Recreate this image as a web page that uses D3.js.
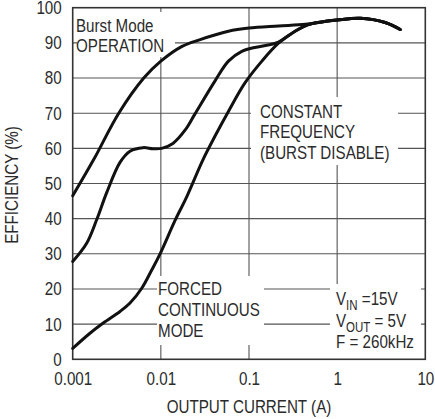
<!DOCTYPE html>
<html>
<head>
<meta charset="utf-8">
<script src="https://cdnjs.cloudflare.com/ajax/libs/d3/7.8.5/d3.min.js"></script>
<style>
  body { margin: 0; background: #fff; }
  text { font-family: 'Liberation Sans', Arial, sans-serif; fill: #2b2b2b; }
</style>
</head>
<body>
<script>
// output current (A) and efficiency (%)
var burstI   = [0.001, 0.00173, 0.00333, 0.0064, 0.01, 0.0174, 0.0269, 0.0584, 0.1, 0.216, 0.434, 0.69, 1.0, 1.83, 3.5, 5.2];
var burstEff = [46.5, 56.8, 70, 80, 84.8, 89, 90.8, 93.3, 94.2, 94.8, 95.3, 96, 96.5, 97, 95.8, 93.8];

var constI   = [0.001, 0.00144, 0.00187, 0.00243, 0.00344, 0.00447, 0.00628, 0.00815, 0.0102, 0.0137, 0.019, 0.0244, 0.0412, 0.0584, 0.0828, 0.112, 0.159, 0.216, 0.333, 0.472, 0.69, 1.0, 1.83, 3.5, 5.2];
var constEff = [27.8, 33, 39.7, 47.4, 56, 59.2, 60.2, 59.9, 60, 61.4, 65.3, 69.8, 79.2, 84.8, 87.6, 88.6, 89.3, 90.2, 93.3, 95.2, 96, 96.5, 97, 95.8, 93.8];

var forcedI   = [0.001, 0.00157, 0.00222, 0.00344, 0.00447, 0.00607, 0.00788, 0.0098, 0.0145, 0.0197, 0.0301, 0.0412, 0.0584, 0.09, 0.14, 0.216, 0.333, 0.472, 0.69, 1.0, 1.83, 3.5, 5.2];
var forcedEff = [3.1, 7.4, 10.3, 13.6, 16, 20.2, 25.4, 30, 39.5, 46.3, 56.8, 63.5, 70.5, 78.6, 84.8, 89.9, 93.3, 95.2, 96, 96.5, 97, 95.8, 93.8];

var xTicks = [0.001, 0.01, 0.1, 1, 10];
var xTickLabels = ["0.001", "0.01", "0.1", "1", "10"];
var yTicks = [0, 10, 20, 30, 40, 50, 60, 70, 80, 90, 100];

var w = 435, h = 419;
var mLeft = 72.7, mRight = 425.3, mTop = 7.7, mBottom = 359.3;
var fs = 18.5, squeeze = 0.82;

var x = d3.scaleLog().domain([0.001, 10]).range([mLeft, mRight]);
var y = d3.scaleLinear().domain([0, 100]).range([mBottom, mTop]);

var svg = d3.select("body").append("svg")
  .attr("width", w)
  .attr("height", h);

//grid
svg.append("g").selectAll("line").data(yTicks.slice(1, -1)).enter().append("line")
  .attr("x1", mLeft).attr("x2", mRight)
  .attr("y1", function(d) { return y(d); }).attr("y2", function(d) { return y(d); })
  .attr("stroke", "#555").attr("stroke-width", 1.1);
svg.append("g").selectAll("line").data(xTicks.slice(1, -1)).enter().append("line")
  .attr("y1", mTop).attr("y2", mBottom)
  .attr("x1", function(d) { return x(d); }).attr("x2", function(d) { return x(d); })
  .attr("stroke", "#555").attr("stroke-width", 1.1);

//white boxes behind the notes
var boxes = [[77, 12, 98, 45], [251, 97, 147, 68], [157, 276, 107, 69], [330, 284, 91, 75]];
svg.append("g").selectAll("rect").data(boxes).enter().append("rect")
  .attr("x", function(d) { return d[0]; })
  .attr("y", function(d) { return d[1]; })
  .attr("width", function(d) { return d[2]; })
  .attr("height", function(d) { return d[3]; })
  .attr("fill", "#fff");

//frame
svg.append("rect")
  .attr("x", mLeft).attr("y", mTop)
  .attr("width", mRight - mLeft).attr("height", mBottom - mTop)
  .attr("fill", "none").attr("stroke", "#333").attr("stroke-width", 1.6);

//axes
var xAxis = d3.axisBottom(x).tickValues(xTicks)
  .tickFormat(function(d, i) { return xTickLabels[i]; })
  .tickSize(0).tickPadding(13);
var gx = svg.append("g").attr("transform", "translate(0," + mBottom + ")").call(xAxis);
var yAxis = d3.axisLeft(y).tickValues(yTicks).tickSize(0).tickPadding(11);
var gy = svg.append("g").attr("transform", "translate(" + mLeft + ",0)").call(yAxis);
[gx, gy].forEach(function(g) {
  g.select(".domain").remove();
  g.selectAll("text").attr("font-size", fs).attr("fill", "#2b2b2b")
    .style("font-family", "'Liberation Sans', Arial, sans-serif");
});

svg.append("text")
  .attr("class", "sq")
  .attr("x", (mLeft + mRight) / 2 + 0).attr("y", 413)
  .attr("text-anchor", "middle").attr("font-size", fs)
  .text("OUTPUT CURRENT (A)");
svg.append("text")
  .attr("class", "sq")
  .attr("transform", "translate(17.5,185) rotate(-90)")
  .attr("text-anchor", "middle").attr("font-size", fs)
  .text("EFFICIENCY (%)");

//narrow the plain texts
svg.selectAll(".tick text, text.sq").each(function() {
  var len = this.getComputedTextLength();
  d3.select(this).attr("textLength", len * squeeze).attr("lengthAdjust", "spacingAndGlyphs");
});

//curves
var line = d3.line()
  .x(function(d) { return x(d[0]); })
  .y(function(d) { return y(d[1]); })
  .curve(d3.curveCatmullRom.alpha(0.5));
var series = [[forcedI, forcedEff], [constI, constEff], [burstI, burstEff]];
series.forEach(function(s) {
  svg.append("path")
    .datum(d3.zip(s[0], s[1]))
    .attr("d", line)
    .attr("fill", "none")
    .attr("stroke", "#111")
    .attr("stroke-width", 3)
    .attr("stroke-linecap", "round");
});

//notes
function note(lines, x0, y0, dy) {
  var g = svg.append("g").attr("transform", "translate(" + x0 + "," + y0 + ") scale(" + squeeze + ",1)");
  var t = g.append("text").attr("font-size", fs);
  lines.forEach(function(s, i) {
    t.append("tspan").attr("x", 0).attr("y", i * dy).text(s);
  });
}
note(["Burst Mode", "OPERATION"], 76, 31.7, 20);
note(["CONSTANT", "FREQUENCY", "(BURST DISABLE)"], 260, 118, 20.5);
note(["FORCED", "CONTINUOUS", "MODE"], 158, 295, 21);

var cond = [["V", "IN", " =15V"], ["V", "OUT", " = 5V"], ["F = 260kHz", "", ""]];
cond.forEach(function(c, i) {
  var g = svg.append("g").attr("transform", "translate(336," + (305 + i * 21.7) + ") scale(" + squeeze + ",1)");
  var t = g.append("text").attr("font-size", fs);
  t.append("tspan").text(c[0]);
  if (c[1]) {
    t.append("tspan").attr("font-size", 14).attr("dy", 5).text(c[1]);
    t.append("tspan").attr("dy", -5).text(c[2]);
  }
});
</script>
</body>
</html>
